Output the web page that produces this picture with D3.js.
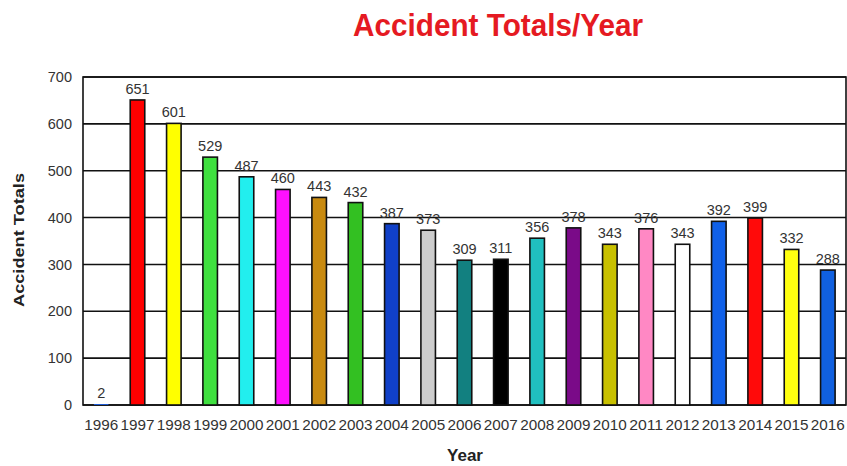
<!DOCTYPE html>
<html><head><meta charset="utf-8">
<script src="https://cdn.jsdelivr.net/npm/d3@7"></script>
<style>
html,body{margin:0;padding:0;background:#fff;}
svg{display:block;font-family:"Liberation Sans",Arial,sans-serif;}
</style></head>
<body>
<svg id="chart" width="847" height="466"></svg>
<script>
const years = ["1996","1997","1998","1999","2000","2001","2002","2003","2004","2005","2006","2007","2008","2009","2010","2011","2012","2013","2014","2015","2016"];
const totals = [2,651,601,529,487,460,443,432,387,373,309,311,356,378,343,376,343,392,399,332,288];
const barColors = ["#1f5fe0","#ff0000","#ffff00","#3fe03f","#22eeee","#ff10ff","#c88a10","#33c022","#1040c8","#cccccc","#128080","#000000","#20c0c0","#7a0a88","#c8c000","#ff88c4","#ffffff","#1060e8","#ff0a0a","#ffff10","#1060e0"];
const yTicks = [0,100,200,300,400,500,600,700];

const svg = d3.select("#chart");
const pLeft = 83, pRight = 846, pTop = 77, pBottom = 405;

const x = d3.scaleBand().domain(years).range([pLeft, pRight]).paddingInner(0.6).paddingOuter(0.3);
const y = d3.scaleLinear().domain([0, 700]).range([pBottom, pTop]);

// gridlines
svg.append("g").selectAll("line").data(yTicks).join("line")
  .attr("x1", pLeft).attr("x2", pRight)
  .attr("y1", d => y(d)).attr("y2", d => y(d))
  .attr("stroke", "#111").attr("stroke-width", 1.6);

// plot border
svg.append("rect").attr("x", pLeft).attr("y", pTop).attr("width", pRight-pLeft).attr("height", pBottom-pTop)
  .attr("fill", "none").attr("stroke", "#111").attr("stroke-width", 1.6);

// bars
const data = years.map((yr,i) => ({yr, v: totals[i], c: barColors[i]}));
svg.append("g").selectAll("rect").data(data).join("rect")
  .attr("x", d => x(d.yr)).attr("width", x.bandwidth())
  .attr("y", d => y(d.v)).attr("height", d => y(0) - y(d.v))
  .attr("fill", d => d.c).attr("stroke", "#111").attr("stroke-width", d => d.v < 10 ? 0 : 1.6);

// value labels
svg.append("g").selectAll("text").data(data).join("text")
  .attr("x", d => x(d.yr) + x.bandwidth()/2).attr("y", d => y(d.v) - 6)
  .attr("text-anchor", "middle").attr("font-size", 14.5).attr("fill", "#333")
  .text(d => d.v);

// y axis
const yAxis = d3.axisLeft(y).tickValues(yTicks).tickSize(0).tickPadding(11);
const gy = svg.append("g").attr("transform", `translate(${pLeft},0)`).call(yAxis);
gy.select(".domain").remove();
gy.selectAll("text").attr("font-size", 14.5).attr("fill", "#333").attr("font-family", "Liberation Sans, Arial, sans-serif");

// x axis
const xAxis = d3.axisBottom(x).tickSize(0).tickPadding(14);
const gx = svg.append("g").attr("transform", `translate(0,${pBottom})`).call(xAxis);
gx.select(".domain").remove();
gx.selectAll("text").attr("font-size", 15).attr("fill", "#333").attr("font-family", "Liberation Sans, Arial, sans-serif")
  .attr("textLength", 34).attr("lengthAdjust", "spacingAndGlyphs");

// title
svg.append("text").attr("x", 498).attr("y", 36).attr("text-anchor", "middle")
  .attr("font-size", 31).attr("font-weight", "bold").attr("fill", "#e51a22")
  .attr("textLength", 290).attr("lengthAdjust", "spacingAndGlyphs")
  .text("Accident Totals/Year");

// axis titles
svg.append("text").attr("transform", "translate(24,240) rotate(-90)").attr("text-anchor", "middle")
  .attr("font-size", 15).attr("font-weight", "bold").attr("fill", "#222")
  .attr("textLength", 134).attr("lengthAdjust", "spacingAndGlyphs")
  .text("Accident Totals");
svg.append("text").attr("x", 465).attr("y", 461).attr("text-anchor", "middle")
  .attr("font-size", 17).attr("font-weight", "bold").attr("fill", "#222")
  .text("Year");
</script>
</body></html>
